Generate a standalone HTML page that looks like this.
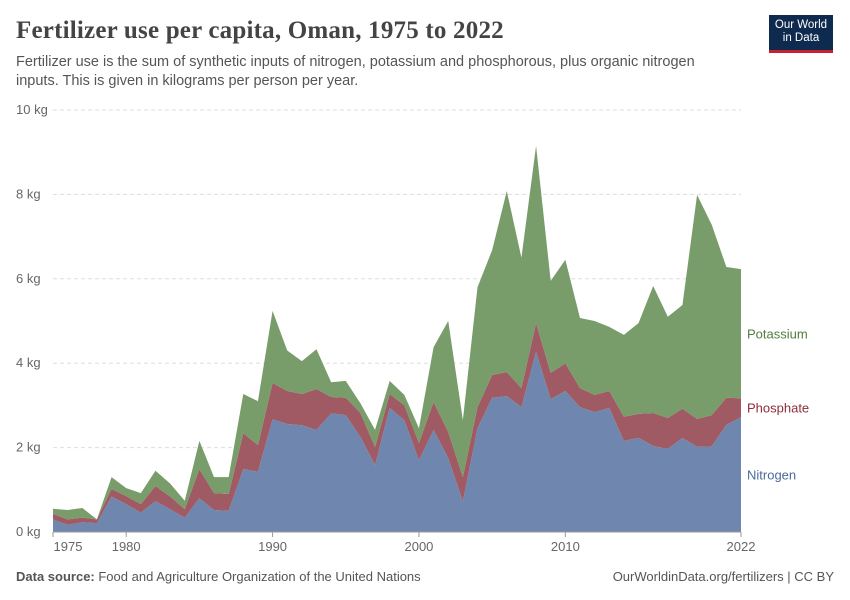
<!DOCTYPE html>
<html><head><meta charset="utf-8"><style>
body{margin:0;background:#fff;font-family:"Liberation Sans",sans-serif;}
#wrap{position:relative;width:850px;height:600px;overflow:hidden;}
.t{position:absolute;white-space:nowrap;}
</style></head><body>
<div id="wrap">
<div class="t" style="left:16px;top:17px;font-family:'Liberation Serif',serif;font-size:25px;font-weight:bold;letter-spacing:0.2px;color:#444;">Fertilizer use per capita, Oman, 1975 to 2022</div>
<div class="t" style="left:16px;top:53px;font-size:14.5px;color:#555;line-height:19px;white-space:normal;width:720px;">Fertilizer use is the sum of synthetic inputs of nitrogen, potassium and phosphorous, plus organic nitrogen inputs. This is given in kilograms per person per year.</div>
<div style="position:absolute;left:769px;top:15px;width:64px;background:#0f2a4f;border-bottom:3px solid #c8202d;color:#fff;font-size:11.5px;line-height:13px;text-align:center;padding-top:4px;box-sizing:content-box;height:31px;">Our World<br>in Data</div>
<svg id="chart" width="850" height="600" style="position:absolute;left:0;top:0"></svg>
<div class="t" style="left:16px;top:569px;font-size:13px;color:#555;"><b>Data source:</b> Food and Agriculture Organization of the United Nations</div>
<div class="t" style="right:16px;top:569px;font-size:13px;color:#555;">OurWorldinData.org/fertilizers | CC BY</div>
</div>
<script>
const years=[];for(let y=1975;y<=2022;y++)years.push(y);
const nitrogen=[.3,.17,.23,.21,.84,.66,.46,.73,.54,.34,.8,.52,.5,1.49,1.43,2.67,2.56,2.53,2.42,2.81,2.77,2.25,1.59,2.94,2.65,1.7,2.42,1.75,.73,2.46,3.18,3.22,2.96,4.27,3.15,3.34,2.96,2.84,2.94,2.16,2.23,2.04,1.97,2.23,2.02,2.03,2.54,2.72];
const phosphate=[.13,.13,.11,.09,.18,.19,.2,.36,.3,.2,.69,.4,.4,.85,.63,.86,.78,.74,.97,.39,.41,.57,.42,.33,.35,.41,.66,.62,.57,.5,.54,.57,.45,.68,.62,.66,.45,.41,.4,.57,.57,.78,.73,.69,.66,.74,.64,.45];
const potassium=[.12,.22,.23,0,.28,.19,.26,.36,.31,.2,.67,.38,.4,.93,1.04,1.71,.96,.78,.94,.35,.4,.23,.41,.31,.25,.35,1.3,2.63,1.35,2.84,2.96,4.29,3.09,4.2,2.18,2.45,1.66,1.75,1.52,1.94,2.15,3.01,2.4,2.46,5.31,4.51,3.1,3.06];
const yTicks=[0,2,4,6,8,10];
const xTicks=[1975,1980,1990,2000,2010,2022];
const svg=document.getElementById('chart');const NS='http://www.w3.org/2000/svg';
const X0=53,X1=741,Y0=532,Y1=110;
const xs=y=>X0+(y-1975)/(2022-1975)*(X1-X0);
const ys=v=>Y0-v/10*(Y0-Y1);
function mk(t,a){const e=document.createElementNS(NS,t);for(const k in a)e.setAttribute(k,a[k]);svg.appendChild(e);return e;}
yTicks.forEach(v=>{
 if(v>0){const l=mk('line',{x1:X0,x2:X1,y1:ys(v),y2:ys(v),stroke:'#ddd','stroke-dasharray':'4,3'});
 
 }
 const t=mk('text',{x:16,y:ys(v)+4,'font-size':13,fill:'#666','font-family':'Liberation Sans, sans-serif'});t.textContent=v+' kg';
 
 
});
const series=[{n:'nitrogen',d:nitrogen,c:'#6f87ae',lc:'#4c6a9c',label:'Nitrogen'},{n:'phosphate',d:phosphate,c:'#a05a63',lc:'#8c2e37',label:'Phosphate'},{n:'potassium',d:potassium,c:'#789c6a',lc:'#4f7f3c',label:'Potassium'}];
let base=years.map(()=>0);
series.forEach(s=>{
 const top=base.map((b,i)=>b+s.d[i]);
 let p='M'+years.map((y,i)=>xs(y)+','+ys(top[i])).join('L');
 for(let i=years.length-1;i>=0;i--)p+='L'+xs(years[i])+','+ys(base[i]);
 p+='Z';
 const e=mk('path',{d:p,fill:s.c});
 
 
 const n=years.length-1,mid=(base[n]+top[n])/2;
 const t=mk('text',{x:747,y:ys(mid)+5,'font-size':13,fill:s.lc,'font-family':'Liberation Sans, sans-serif'});t.textContent=s.label;
 
 
 base=top;
});
const ax=mk('line',{x1:X0,x2:X1,y1:Y0,y2:Y0,stroke:'#999'});


xTicks.forEach(y=>{
 const l=mk('line',{x1:xs(y),x2:xs(y),y1:Y0,y2:Y0+5,stroke:'#999'});
 
 
 const t=mk('text',{x:xs(y)+(y===1975?15:0),y:Y0+19,'font-size':13,fill:'#666','text-anchor':'middle','font-family':'Liberation Sans, sans-serif'});t.textContent=y;
 
 
});
</script>
</body></html>
